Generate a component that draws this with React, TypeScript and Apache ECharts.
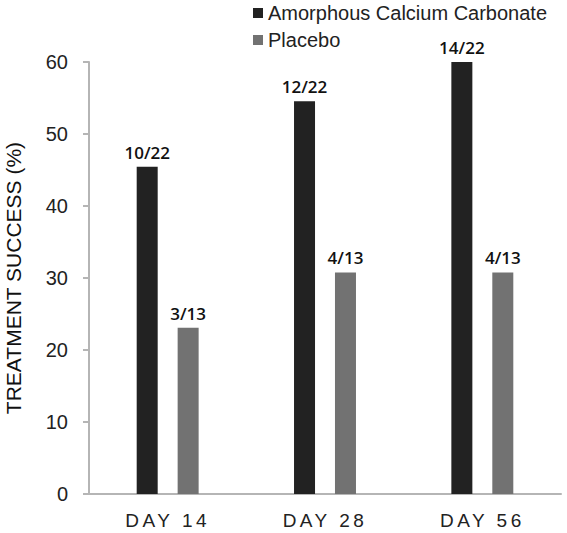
import React, { useEffect, useRef } from "react";
import * as echarts from "echarts";

const categories = ["DAY 14", "DAY 28", "DAY 56"];
const accValues = [45.45, 54.55, 60];
const placeboValues = [23.08, 30.77, 30.77];
const accLabels = ["10/22", "12/22", "14/22"];
const placeboLabels = ["3/13", "4/13", "4/13"];
const yTicks = [0, 10, 20, 30, 40, 50, 60];

export default function App() {
  const ref = useRef<HTMLDivElement>(null);
  useEffect(() => {
    if (!ref.current) return;
    const chart = echarts.init(ref.current, undefined, { renderer: "svg" });
    const sans = "'Liberation Sans', Arial, sans-serif";
    const xSans = "'Liberation Sans', Arimo, sans-serif";
    const labelFont = {
      show: true,
      position: "top",
      distance: 6,
      color: "#111",
      fontFamily: "'Open Sans', sans-serif",
      fontWeight: 600,
      fontSize: 17,
    };
    chart.setOption({
      animation: false,
      backgroundColor: "#fff",
      legend: {
        orient: "vertical",
        left: 253,
        top: 3,
        padding: 0,
        itemWidth: 10,
        itemHeight: 10,
        itemGap: 7,
        icon: "rect",
        textStyle: { fontSize: 20, color: "#222", fontFamily: sans },
        data: ["Amorphous Calcium Carbonate", "Placebo"],
      },
      grid: {
        left: 89,
        right: 6,
        top: 62,
        bottom: 39,
        containLabel: false,
        outerBoundsMode: "none",
      },
      xAxis: {
        type: "category",
        data: categories,
        axisLine: { show: true, lineStyle: { color: "#b5b5b5", width: 2 } },
        axisTick: { show: false },
        axisLabel: {
          color: "#222",
          fontSize: 19,
          fontFamily: xSans,
          margin: 17,
        },
      },
      yAxis: {
        type: "value",
        min: yTicks[0],
        max: yTicks[yTicks.length - 1],
        interval: 10,
        name: "TREATMENT SUCCESS (%)",
        nameLocation: "middle",
        nameGap: 65,
        nameTextStyle: { fontSize: 21, color: "#111", fontFamily: sans },
        axisLine: { show: true, lineStyle: { color: "#b5b5b5", width: 2 } },
        axisTick: { show: true, length: 6, lineStyle: { color: "#b5b5b5", width: 2 } },
        splitLine: { show: false },
        axisLabel: {
          color: "#222",
          fontSize: 20,
          fontFamily: sans,
          margin: 21,
        },
      },
      series: [
        {
          name: "Amorphous Calcium Carbonate",
          type: "bar",
          data: accValues,
          barWidth: 21,
          barGap: "95%",
          itemStyle: { color: "#222222" },
          label: {
            ...labelFont,
            formatter: (p: any) => accLabels[p.dataIndex],
          },
        },
        {
          name: "Placebo",
          type: "bar",
          data: placeboValues,
          barWidth: 21,
          barGap: "95%",
          itemStyle: { color: "#727272" },
          label: {
            ...labelFont,
            formatter: (p: any) => placeboLabels[p.dataIndex],
          },
        },
      ],
    });
    return () => chart.dispose();
  }, []);
  return (
    <>
      <style>{`text[style*="Arimo"], text[font-family*="Arimo"] { letter-spacing: 3.5px; }`}</style>
      <div ref={ref} style={{ width: 567, height: 533, position: "fixed", left: 0, top: 0 }} />
    </>
  );
}
